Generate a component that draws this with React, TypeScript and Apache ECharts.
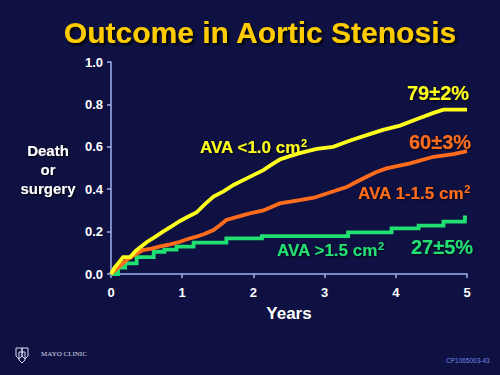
import React, { useEffect, useRef } from "react";
import * as echarts from "echarts";

const yTicks = [0, 0.2, 0.4, 0.6, 0.8, 1.0];
const xTicks = [0, 1, 2, 3, 4, 5];

const yellowYears = [0, 0.05, 0.1, 0.17, 0.27, 0.35, 0.5, 0.62, 0.73, 0.85, 0.97, 1.08, 1.2, 1.32, 1.44, 1.58, 1.72, 1.9, 2.02, 2.14, 2.25, 2.37, 2.5, 2.65, 2.89, 3.12, 3.36, 3.59, 3.82, 4.06, 4.29, 4.53, 4.67, 5.0];
const yellowValues = [0.0, 0.03, 0.05, 0.08, 0.08, 0.11, 0.15, 0.175, 0.2, 0.225, 0.25, 0.27, 0.29, 0.33, 0.365, 0.39, 0.42, 0.45, 0.47, 0.49, 0.515, 0.54, 0.555, 0.57, 0.59, 0.6, 0.63, 0.655, 0.68, 0.7, 0.73, 0.76, 0.775, 0.775];

const orangeYears = [0, 0.1, 0.22, 0.33, 0.45, 0.57, 0.69, 0.83, 0.97, 1.08, 1.2, 1.32, 1.44, 1.53, 1.62, 1.86, 2.0, 2.14, 2.37, 2.65, 2.85, 3.03, 3.31, 3.45, 3.59, 3.72, 3.87, 4.2, 4.53, 4.81, 5.0];
const orangeValues = [0, 0.03, 0.066, 0.09, 0.113, 0.12, 0.13, 0.14, 0.152, 0.165, 0.176, 0.19, 0.207, 0.23, 0.255, 0.278, 0.29, 0.3, 0.333, 0.349, 0.36, 0.38, 0.41, 0.435, 0.459, 0.48, 0.498, 0.522, 0.553, 0.566, 0.58];

const greenYears = [0, 0.1, 0.2, 0.36, 0.6, 0.75, 0.92, 1.16, 1.62, 2.12, 3.33, 3.94, 4.32, 4.67, 4.97, 5.0];
const greenValues = [0, 0.03, 0.05, 0.08, 0.105, 0.115, 0.129, 0.148, 0.168, 0.179, 0.196, 0.215, 0.228, 0.247, 0.267, 0.267];

const seriesNames = ["AVA <1.0 cm²", "AVA 1-1.5 cm²", "AVA >1.5 cm²"];
const endLabels = ["79±2%", "60±3%", "27±5%"];

const BG = "#0e1141";
const YELLOW = "#ffff1e";
const ORANGE = "#ff6d1c";
const GREEN = "#20e072";
const FONT = "Liberation Sans, Arial, sans-serif";

const pair = (xs: number[], ys: number[]) => xs.map((x, i) => [x, ys[i]]);

export default function App() {
  const ref = useRef<HTMLDivElement>(null);
  useEffect(() => {
    if (!ref.current) return;
    const chart = echarts.init(ref.current, null, { renderer: "svg" });
    const shadow = { textShadowColor: "rgba(0,0,0,0.8)", textShadowBlur: 2, textShadowOffsetX: 1, textShadowOffsetY: 1 };
    const lineSeries = (name: string, data: number[][], color: string, z: number, step: any) => ({
      type: "line",
      name,
      data,
      step,
      symbol: "none",
      z,
      lineStyle: { color, width: 3.8, join: "miter" },
    });
    const ava = (prefix: string, color: string, x: number, y: number) => ({
      type: "text",
      x,
      y,
      style: {
        text: `{a|${prefix} cm}{s|2}`,
        rich: {
          a: { fontSize: 17, fontWeight: "bold", fill: color, fontFamily: FONT, verticalAlign: "bottom" },
          s: { fontSize: 11, fontWeight: "bold", fill: color, fontFamily: FONT, verticalAlign: "top", padding: [0, 0, 8, 0] },
        },
        ...shadow,
      },
    });
    chart.setOption({
      animation: false,
      backgroundColor: BG,
      grid: { left: 111, right: 33, top: 62, bottom: 101 },
      xAxis: {
        type: "value",
        min: 0,
        max: 5,
        interval: 1,
        splitLine: { show: false },
        axisLine: { lineStyle: { color: "#9db2f0", width: 1.5 } },
        axisTick: { show: true, length: 4, lineStyle: { color: "#9db2f0", width: 1.5 } },
        axisLabel: { color: "#ffffff", fontWeight: "bold", fontSize: 13, fontFamily: FONT, margin: 12, formatter: (v: number) => (xTicks.includes(v) ? String(v) : "") },
        name: "Years",
        nameLocation: "middle",
        nameGap: 31,
        nameTextStyle: { color: "#ffffff", fontWeight: "bold", fontSize: 17, fontFamily: FONT },
      },
      yAxis: {
        type: "value",
        min: 0,
        max: 1,
        interval: 0.2,
        splitLine: { show: false },
        axisLine: { show: true, lineStyle: { color: "#9db2f0", width: 1.5 } },
        axisTick: { show: true, length: 4, lineStyle: { color: "#9db2f0", width: 1.5 } },
        axisLabel: { color: "#ffffff", fontWeight: "bold", fontSize: 13, fontFamily: FONT, margin: 8, formatter: (v: number) => (yTicks.some((t) => Math.abs(t - v) < 1e-9) ? v.toFixed(1) : "") },
      },
      series: [
        lineSeries(seriesNames[2], pair(greenYears, greenValues), GREEN, 2, "end"),
        lineSeries(seriesNames[1], pair(orangeYears, orangeValues), ORANGE, 3, false),
        lineSeries(seriesNames[0], pair(yellowYears, yellowValues), YELLOW, 4, false),
      ],
      graphic: [
        {
          type: "text",
          x: 260,
          y: 32,
          style: { text: "Outcome in Aortic Stenosis", fill: "#ffcc00", fontSize: 30, fontWeight: "bold", fontFamily: FONT, align: "center", verticalAlign: "middle", textShadowColor: "#000000", textShadowBlur: 2, textShadowOffsetX: 2, textShadowOffsetY: 2 },
        },
        {
          type: "text",
          x: 48,
          y: 169,
          style: { text: "Death\nor\nsurgery", fill: "#ffffff", fontSize: 15, fontWeight: "bold", fontFamily: FONT, align: "center", verticalAlign: "middle", lineHeight: 19, ...shadow },
        },
        { type: "text", x: 407, y: 83, style: { text: endLabels[0], fill: YELLOW, fontSize: 20, fontWeight: "bold", fontFamily: FONT, ...shadow } },
        { type: "text", x: 409, y: 132, style: { text: endLabels[1], fill: ORANGE, fontSize: 20, fontWeight: "bold", fontFamily: FONT, ...shadow } },
        { type: "text", x: 411, y: 237, style: { text: endLabels[2], fill: GREEN, fontSize: 20, fontWeight: "bold", fontFamily: FONT, ...shadow } },
        ava("AVA <1.0", YELLOW, 200, 137),
        ava("AVA 1-1.5", ORANGE, 358, 183),
        ava("AVA >1.5", GREEN, 277, 240),
        { type: "polygon", shape: { points: [[16, 348], [22, 348], [22, 356], [19, 359], [16, 356]] }, style: { fill: "none", stroke: "#d8dcf0", lineWidth: 1 } },
        { type: "polygon", shape: { points: [[22, 348], [28, 348], [28, 356], [25, 359], [22, 356]] }, style: { fill: "none", stroke: "#d8dcf0", lineWidth: 1 } },
        { type: "polygon", shape: { points: [[19, 352], [25, 352], [25, 360], [22, 363], [19, 360]] }, style: { fill: "none", stroke: "#d8dcf0", lineWidth: 1 } },
        { type: "text", x: 41, y: 350, style: { text: "MAYO CLINIC", fill: "#d8dcf0", fontSize: 7, fontFamily: "Liberation Serif, serif" } },
        { type: "text", x: 446, y: 357, style: { text: "CP1065003-43", fill: "#6f86e8", fontSize: 6.5, fontFamily: FONT } },
      ],
    });
    return () => chart.dispose();
  }, []);
  return <div ref={ref} style={{ width: 500, height: 375, position: "absolute", left: 0, top: 0 }} />;
}
